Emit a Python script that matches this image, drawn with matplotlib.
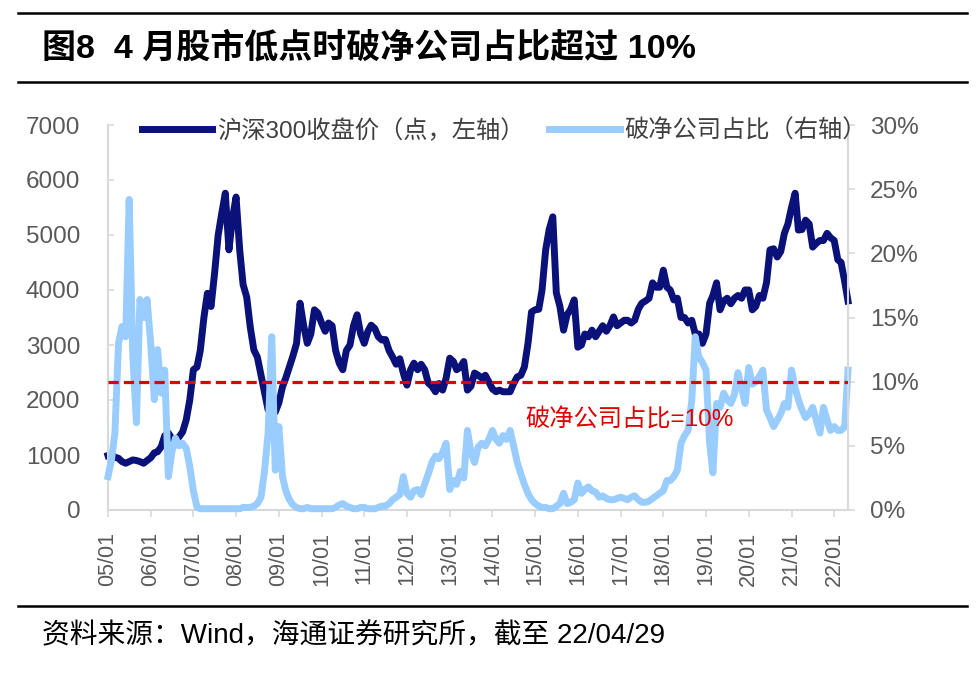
import matplotlib
matplotlib.use("Agg")
import matplotlib.pyplot as plt
import matplotlib.dates as mdates
from matplotlib.lines import Line2D
import pandas as pd

plt.rcParams['font.family'] = ['Liberation Sans', 'Noto Sans CJK SC']

# monthly points (first of month) + last trading day 2022/04/29
months = pd.date_range("2005-01-01", "2022-04-01", freq="MS")
dates = list(months) + [pd.Timestamp("2022-04-29")]

# CSI300 close (points)
csi300 = (
    [990, 1010, 960, 940, 880, 850, 880, 910, 900, 880, 850, 900]          # 2005
    + [950, 1040, 1060, 1150, 1350, 1400, 1300, 1270, 1330, 1420, 1640, 2000]  # 2006
    + [2550, 2600, 2900, 3500, 3940, 3700, 4300, 5000, 5400, 5760, 4730, 5300]  # 2007
    + [5690, 4730, 4100, 3870, 3330, 2910, 2780, 2450, 2130, 1820, 1850, 1780]  # 2008
    + [1950, 2240, 2400, 2600, 2800, 3030, 3760, 3350, 3030, 3200, 3640, 3580]  # 2009
    + [3400, 3250, 3400, 3350, 2900, 2670, 2550, 2900, 3000, 3350, 3550, 3200]  # 2010
    + [3030, 3250, 3360, 3300, 3150, 3090, 3100, 2900, 2780, 2650, 2750, 2490]  # 2011
    + [2270, 2550, 2670, 2550, 2650, 2550, 2310, 2250, 2150, 2300, 2180, 2400]  # 2012
    + [2760, 2700, 2550, 2600, 2700, 2180, 2250, 2490, 2450, 2400, 2450, 2330]  # 2013
    + [2200, 2150, 2180, 2150, 2150, 2150, 2300, 2420, 2450, 2600, 3030, 3600]  # 2014
    + [3640, 3650, 4000, 4730, 5100, 5330, 3950, 3700, 3270, 3550, 3650, 3820]  # 2015
    + [2960, 3000, 3200, 3150, 3270, 3150, 3250, 3350, 3250, 3350, 3510, 3350]  # 2016
    + [3400, 3450, 3450, 3400, 3450, 3650, 3760, 3800, 3850, 4130, 4050, 4050]  # 2017
    + [4360, 4050, 4000, 3820, 3850, 3500, 3500, 3400, 3450, 3200, 3200, 3030]  # 2018
    + [3200, 3760, 3900, 4130, 3640, 3800, 3850, 3750, 3850, 3900, 3850, 4000]  # 2019
    + [4000, 3640, 3700, 3900, 3850, 4130, 4730, 4750, 4600, 4700, 5030, 5200]  # 2020
    + [5500, 5760, 5090, 5100, 5270, 5200, 4780, 4850, 4900, 4900, 5030, 4950]  # 2021
    + [4900, 4550, 4500, 4150, 3800]                                        # 2022
)

# share of companies trading below book value (%)
pb_ratio = (
    [2.6, 4.0, 6.0, 13.0, 14.3, 13.5, 24.2, 12.0, 6.8, 16.4, 15.0, 16.4]
    + [13.0, 8.6, 12.5, 9.1, 10.9, 2.6, 4.5, 5.6, 5.0, 5.2, 4.8, 3.4]
    + [1.5, 0.2, 0.1, 0.1, 0.1, 0.1, 0.1, 0.1, 0.1, 0.1, 0.1, 0.1]
    + [0.1, 0.1, 0.2, 0.2, 0.2, 0.3, 0.5, 1.0, 3.1, 6.0, 13.5, 3.1]
    + [6.5, 2.6, 1.5, 0.8, 0.4, 0.2, 0.1, 0.1, 0.2, 0.1, 0.1, 0.1]
    + [0.1, 0.1, 0.1, 0.1, 0.2, 0.4, 0.5, 0.3, 0.2, 0.1, 0.1, 0.2]
    + [0.2, 0.1, 0.1, 0.1, 0.2, 0.3, 0.3, 0.5, 0.8, 1.0, 1.2, 2.6]
    + [1.3, 1.0, 1.5, 1.6, 1.2, 2.0, 2.8, 3.7, 4.2, 4.0, 4.5, 5.2]
    + [1.6, 2.3, 2.0, 3.0, 2.5, 6.2, 4.5, 3.7, 4.9, 5.2, 5.0, 5.5]
    + [6.2, 5.5, 5.2, 5.8, 5.5, 6.2, 5.0, 3.7, 2.8, 2.0, 1.3, 0.8]
    + [0.5, 0.3, 0.2, 0.2, 0.1, 0.1, 0.3, 0.5, 1.3, 0.5, 0.6, 0.8]
    + [2.1, 1.3, 1.6, 1.8, 1.5, 1.4, 1.0, 1.1, 0.9, 0.8, 0.8, 0.9]
    + [1.0, 0.9, 0.8, 1.0, 1.1, 0.8, 0.6, 0.6, 0.7, 0.9, 1.1, 1.3]
    + [1.5, 2.3, 2.3, 2.6, 3.1, 5.2, 5.8, 6.2, 8.5, 13.5, 11.9, 11.5]
    + [10.9, 5.2, 2.9, 8.3, 8.0, 9.1, 8.6, 8.3, 9.0, 10.7, 9.5, 8.3]
    + [11.1, 9.8, 10.0, 10.4, 10.9, 7.8, 7.2, 6.5, 7.0, 7.5, 8.3, 8.0]
    + [10.9, 9.5, 8.6, 7.8, 7.2, 7.5, 8.0, 7.0, 6.0, 8.0, 7.0, 6.2]
    + [6.5, 6.2, 6.2, 6.5, 10.9]
)

threshold = 10
left_ticks = list(range(0, 7001, 1000))
right_ticks = list(range(0, 31, 5))
year_ticks = pd.date_range("2005-01-01", "2022-01-01", freq="YS")

NAVY = "#0A1178"
LIGHT = "#99CCFF"
RED = "#E00000"
GRAY = "#595959"
SPINE = "#D9D9D9"

W, H = 978, 673
fig = plt.figure(figsize=(W / 100, H / 100), dpi=100)
ax = fig.add_axes([108 / W, (H - 510) / H, 740 / W, 385 / H])
ax2 = ax.twinx()

l1, = ax.plot(dates, csi300, color=NAVY, lw=5.0, clip_on=False, solid_joinstyle="round")
l2, = ax2.plot(dates, pb_ratio, color=LIGHT, lw=5.0, clip_on=False, solid_joinstyle="round")
ax2.axhline(threshold, color=RED, lw=2.3, ls=(0, (3.2, 1.6)), zorder=5)
ax2.text(0.5635, 0.234, "破净公司占比=10%", transform=ax.transAxes, color=RED,
         fontsize=17.5, ha="left", va="center")

ax.set_xlim(pd.Timestamp("2005-01-01"), pd.Timestamp("2022-04-29"))
ax.set_ylim(0, 7000)
ax2.set_ylim(0, 30)
ax.set_yticks(left_ticks)
ax2.set_yticks(right_ticks)
ax2.set_yticklabels([f"{t}%" for t in right_ticks])
ax.set_xticks(year_ticks)
ax.xaxis.set_major_formatter(mdates.DateFormatter("%y/%m"))

for s in ["top", "right"]:
    ax.spines[s].set_visible(False)
for s in ["top", "left", "bottom"]:
    ax2.spines[s].set_visible(False)
for sp in [ax.spines["left"], ax.spines["bottom"], ax2.spines["right"]]:
    sp.set_color(SPINE); sp.set_linewidth(1.5)

ax.tick_params(axis="y", direction="in", length=4, color=SPINE, width=1.2,
               labelsize=17.5, labelcolor=GRAY, pad=20)
ax.tick_params(axis="x", direction="out", length=5, color=SPINE, width=1.2,
               labelsize=15.5, labelcolor=GRAY, pad=10.5, labelrotation=90)
ax2.tick_params(axis="y", direction="out", length=5, color=SPINE, width=1.2,
                labelsize=17.5, labelcolor=GRAY, pad=11)

fig.legend([l1, l2], ["沪深300收盘价（点，左轴）", "破净公司占比（右轴）"],
           loc="center left", bbox_to_anchor=(142 / W, 1 - 131 / H), ncol=2,
           frameon=False, handlelength=2.9, handletextpad=0.2, columnspacing=1.0,
           borderpad=0, borderaxespad=0, fontsize=17.5, labelcolor="#404040")

# header / footer rules
for y in (13, 82, 606):
    fig.add_artist(Line2D([18 / W, 967 / W], [1 - y / H, 1 - y / H],
                          transform=fig.transFigure, color="black", lw=1.8))

fig.text(42 / W, 1 - 48.5 / H, "图8  4 月股市低点时破净公司占比超过 10%",
         fontsize=24.5, fontweight="bold", ha="left", va="center")
fig.text(42 / W, 1 - 636 / H, "资料来源：Wind，海通证券研究所，截至 22/04/29",
         fontsize=20, ha="left", va="center")

fig.savefig("out.png", dpi=100)
plt.close(fig)
